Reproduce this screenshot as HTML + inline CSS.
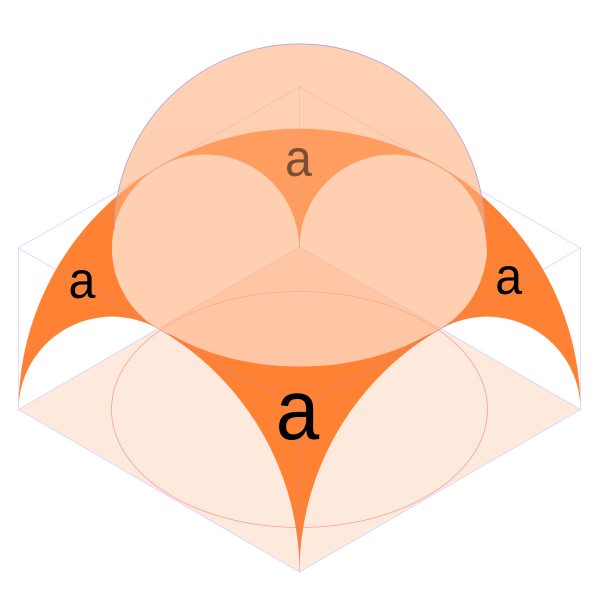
<!DOCTYPE html>
<html>
<head>
<meta charset="utf-8">
<style>
html,body{margin:0;padding:0;background:#fff;}
svg{display:block;}
text{font-family:"Liberation Sans",sans-serif;}
</style>
</head>
<body>
<svg width="600" height="600" viewBox="0 0 600 600" xmlns="http://www.w3.org/2000/svg">
<defs>
<mask id="m" maskUnits="userSpaceOnUse" x="0" y="0" width="600" height="600">
<rect width="600" height="600" fill="#fff"/>
<circle cx="205.5" cy="248" r="93.5" fill="#000"/>
<circle cx="393" cy="248" r="93.5" fill="#000"/>
<path d="M112 248.5A187.5 118 0 0 0 487 248.5Z" fill="#000"/>
</mask>
</defs>
<rect width="600" height="600" fill="#fff"/>
<path d="M299.5 572L18.5 409.5L299.5 247L580.5 409.5Z" fill="#fee9dd" stroke="#d4d4f8" stroke-width=".8"/>
<ellipse cx="299.5" cy="409.5" rx="188" ry="118" fill="none" stroke="#ff9c9c" stroke-width=".8"/>
<g mask="url(#m)">
<path d="M18.5 409.5A281 281 0 0 1 580.5 409.5A93.5 93.5 0 0 0 441.5 328.5A281 281 0 0 0 299.5 572A281 281 0 0 0 157.5 328.5A93.5 93.5 0 0 0 18.5 409.5Z" fill="#ff8133"/>
</g>
<g fill="none" stroke="#8a8aff" stroke-opacity=".4" stroke-width=".7">
<path d="M18.5 409.5V248L299.5 87L580.5 248V409.5"/>
<path d="M18.5 248L299.5 410L580.5 248"/>
<path d="M299.5 87V247M299.5 410V572"/>
</g>
<text transform="translate(82 298) scale(.93 1)" font-size="52" text-anchor="middle" fill="#000">a</text>
<text transform="translate(508.7 294) scale(.93 1)" font-size="52" text-anchor="middle" fill="#000">a</text>
<text transform="translate(297.5 439) scale(.92 1)" font-size="85" text-anchor="middle" fill="#000">a</text>
<path d="M114.5 229A185 185 0 0 1 484.5 229" fill="none" stroke="#a0a0ff" stroke-width=".9"/>
<g opacity=".6" fill="#ffb080">
<path d="M114.5 229A185 185 0 0 1 484.5 229L487 248.5A187.5 118 0 0 1 112 248.5Z"/>
<circle cx="205.5" cy="248" r="93.5"/>
<circle cx="393" cy="248" r="93.5"/>
</g>
<text transform="translate(298.5 176) scale(.93 1)" font-size="52" text-anchor="middle" fill="#7a5035">a</text>
</svg>
</body>
</html>
